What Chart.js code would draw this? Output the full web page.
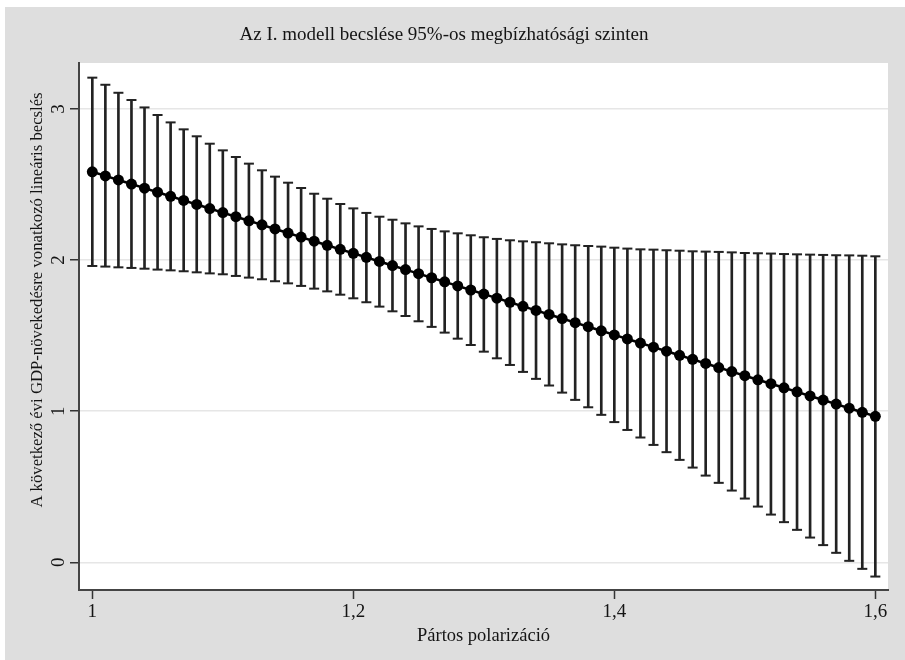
<!DOCTYPE html>
<html>
<head>
<meta charset="utf-8">
<script src="https://cdn.jsdelivr.net/npm/chart.js@4/dist/chart.umd.min.js"></script>
<style>
  html, body { margin: 0; padding: 0; background: #ffffff; }
  #wrap { width: 905px; height: 660px; position: relative; }
</style>
</head>
<body>
<div id="wrap"><canvas id="c" width="905" height="660"></canvas></div>
<script>
const chartTitle = 'Az I. modell becslése 95%-os megbízhatósági szinten';
const xTitle = 'Pártos polarizáció';
const yTitle = 'A következő évi GDP-növekedésre vonatkozó lineáris becslés';

const polarization = [1.00, 1.01, 1.02, 1.03, 1.04, 1.05, 1.06, 1.07, 1.08, 1.09,
  1.10, 1.11, 1.12, 1.13, 1.14, 1.15, 1.16, 1.17, 1.18, 1.19,
  1.20, 1.21, 1.22, 1.23, 1.24, 1.25, 1.26, 1.27, 1.28, 1.29,
  1.30, 1.31, 1.32, 1.33, 1.34, 1.35, 1.36, 1.37, 1.38, 1.39,
  1.40, 1.41, 1.42, 1.43, 1.44, 1.45, 1.46, 1.47, 1.48, 1.49,
  1.50, 1.51, 1.52, 1.53, 1.54, 1.55, 1.56, 1.57, 1.58, 1.59, 1.60];

const estimate = [2.584, 2.557, 2.530, 2.503, 2.476, 2.449, 2.422, 2.395, 2.368, 2.341,
  2.314, 2.287, 2.260, 2.233, 2.206, 2.179, 2.152, 2.125, 2.098, 2.071,
  2.045, 2.018, 1.991, 1.964, 1.937, 1.910, 1.883, 1.856, 1.829, 1.802,
  1.775, 1.748, 1.721, 1.694, 1.667, 1.640, 1.613, 1.586, 1.559, 1.532,
  1.505, 1.478, 1.451, 1.424, 1.397, 1.370, 1.343, 1.316, 1.289, 1.262,
  1.235, 1.208, 1.182, 1.155, 1.128, 1.101, 1.074, 1.047, 1.020, 0.993, 0.966];

const upperCI = [3.207, 3.160, 3.107, 3.059, 3.010, 2.960, 2.911, 2.865, 2.819, 2.770,
  2.726, 2.682, 2.638, 2.594, 2.552, 2.512, 2.477, 2.439, 2.406, 2.371,
  2.342, 2.312, 2.287, 2.267, 2.243, 2.223, 2.206, 2.190, 2.177, 2.164,
  2.151, 2.140, 2.131, 2.124, 2.118, 2.111, 2.104, 2.098, 2.093, 2.089,
  2.082, 2.076, 2.071, 2.069, 2.065, 2.062, 2.058, 2.056, 2.054, 2.051,
  2.047, 2.045, 2.043, 2.040, 2.038, 2.036, 2.034, 2.032, 2.031, 2.029, 2.025];

const lowerCI = [1.961, 1.957, 1.952, 1.948, 1.943, 1.937, 1.932, 1.926, 1.919, 1.912,
  1.906, 1.895, 1.884, 1.873, 1.860, 1.846, 1.829, 1.811, 1.793, 1.771,
  1.747, 1.721, 1.692, 1.661, 1.630, 1.595, 1.558, 1.520, 1.480, 1.438,
  1.394, 1.350, 1.306, 1.260, 1.214, 1.170, 1.123, 1.075, 1.026, 0.976,
  0.928, 0.876, 0.826, 0.777, 0.729, 0.678, 0.627, 0.574, 0.526, 0.475,
  0.422, 0.369, 0.316, 0.266, 0.215, 0.164, 0.114, 0.063, 0.010, -0.043, -0.094];

const xTickValues = [1, 1.2, 1.4, 1.6];
const xTickLabels = ['1', '1,2', '1,4', '1,6'];
const yTickValues = [0, 1, 2, 3];
const yTickLabels = ['0', '1', '2', '3'];

const FONT = "'Liberation Serif', 'DejaVu Serif', serif";
const INK = '#141414';
const BG = '#dedede';

const backgroundPlugin = {
  id: 'bg',
  beforeDraw(chart) {
    const {ctx, chartArea} = chart;
    ctx.save();
    ctx.fillStyle = '#ffffff';
    ctx.fillRect(0, 0, chart.width, chart.height);
    ctx.fillStyle = BG;
    ctx.fillRect(5, 7, chart.width - 5, chart.height - 7);
    ctx.fillStyle = '#ffffff';
    ctx.fillRect(chartArea.left, chartArea.top, chartArea.right - chartArea.left, chartArea.bottom - chartArea.top);
    ctx.restore();
  },
  afterDraw(chart) {
    const {ctx} = chart;
    ctx.save();
    ctx.translate(38, 300);
    ctx.rotate(-Math.PI / 2);
    ctx.font = '16.7px ' + FONT;
    ctx.fillStyle = INK;
    ctx.textAlign = 'center';
    ctx.textBaseline = 'middle';
    ctx.fillText(yTitle, 0, 0);
    ctx.restore();
  }
};

new Chart(document.getElementById('c'), {
  type: 'bar',
  data: {
    datasets: [
      {
        type: 'bar',
        label: 'CI',
        data: polarization.map((x, i) => ({x: x, y: [lowerCI[i], upperCI[i]]})),
        backgroundColor: '#222222',
        borderWidth: 0,
        barThickness: 2,
        grouped: false,
        order: 3
      },
      {
        type: 'scatter',
        label: 'upper',
        data: polarization.map((x, i) => ({x: x, y: upperCI[i]})),
        pointStyle: 'line',
        pointRadius: 5,
        borderColor: '#222222',
        borderWidth: 2,
        showLine: false,
        order: 2
      },
      {
        type: 'scatter',
        label: 'lower',
        data: polarization.map((x, i) => ({x: x, y: lowerCI[i]})),
        pointStyle: 'line',
        pointRadius: 5,
        borderColor: '#222222',
        borderWidth: 2,
        showLine: false,
        order: 2
      },
      {
        type: 'line',
        label: 'estimate',
        data: polarization.map((x, i) => ({x: x, y: estimate[i]})),
        borderColor: '#000000',
        borderWidth: 2.5,
        pointRadius: 5.5,
        pointBackgroundColor: '#000000',
        pointBorderColor: '#000000',
        pointBorderWidth: 0,
        tension: 0,
        order: 0
      }
    ]
  },
  options: {
    responsive: false,
    animation: false,
    layout: { padding: { left: 0, right: 17, top: 0, bottom: 0 } },
    plugins: {
      legend: { display: false },
      tooltip: { enabled: false },
      title: {
        display: true,
        text: chartTitle,
        color: INK,
        font: { family: FONT, size: 19, weight: 'normal', lineHeight: 1.2 },
        padding: { top: 23.6, bottom: 16.6 }
      }
    },
    scales: {
      x: {
        type: 'linear',
        offset: false,
        min: 0.9898,
        max: 1.6097,
        afterFit(scale) { scale.height = 70; },
        afterBuildTicks(scale) { scale.ticks = xTickValues.map(v => ({value: v})); },
        ticks: {
          autoSkip: false,
          maxRotation: 0,
          minRotation: 0,
          padding: 2,
          color: INK,
          font: { family: FONT, size: 19 },
          callback: (v) => { const i = xTickValues.indexOf(v); return i >= 0 ? xTickLabels[i] : ''; }
        },
        grid: {
          drawOnChartArea: false,
          drawTicks: true,
          tickLength: 9,
          tickColor: '#333333',
          tickWidth: 1.5,
          offset: false
        },
        border: { display: true, color: '#444444', width: 2 },
        title: {
          display: true,
          text: xTitle,
          color: INK,
          font: { family: FONT, size: 18.5, lineHeight: 1.2 },
          padding: { top: 0, bottom: 13 }
        }
      },
      y: {
        type: 'linear',
        min: -0.183,
        max: 3.304,
        afterFit(scale) { scale.width = 79; },
        afterBuildTicks(scale) { scale.ticks = yTickValues.map(v => ({value: v})); },
        ticks: {
          minRotation: 90,
          maxRotation: 90,
          crossAlign: 'center',
          padding: 6,
          color: INK,
          font: { family: FONT, size: 19 },
          callback: (v) => { const i = yTickValues.indexOf(v); return i >= 0 ? yTickLabels[i] : ''; }
        },
        grid: {
          drawOnChartArea: true,
          color: '#e6e6e6',
          lineWidth: 1.5,
          tickLength: 9,
          tickColor: '#333333',
          tickWidth: 1.5
        },
        border: { display: true, color: '#444444', width: 2 }
      }
    }
  },
  plugins: [backgroundPlugin]
});
</script>
</body>
</html>
